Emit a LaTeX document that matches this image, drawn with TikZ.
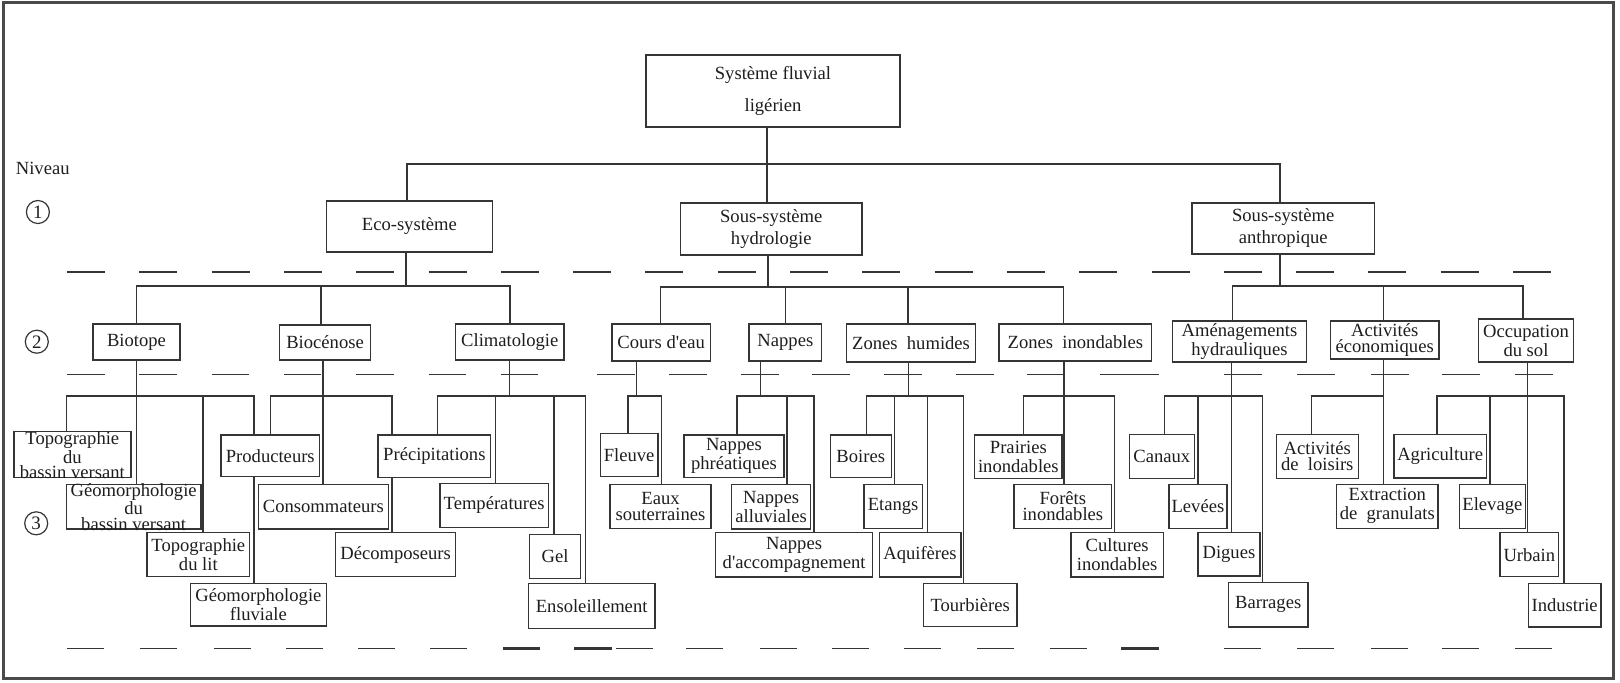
\documentclass[tikz,border=0pt]{standalone}
\usepackage{fontspec}
\setmainfont{Liberation Serif}[Ligatures=TeXOff]
\usetikzlibrary{backgrounds}
\definecolor{ink}{HTML}{353535}
\definecolor{txt}{HTML}{1E1E1E}
\definecolor{framec}{HTML}{4A4A4A}

% box: [label options]{name}{x1}{y1}{x2}{y2}{text}, coordinates in pixels
\newcommand\bx[7][]{%
  \node[box, minimum width={(#5-#3)*0.5pt}, minimum height={(#6-#4)*0.5pt},
        label={[lbl,#1]center:{#7}}] (#2) at ({(#3+#5)/2},{(#4+#6)/2}) {};}
% connector: {parent}{trunk x}{bus y}{child}{drop x}
\newcommand\conn[5]{\draw[wire] (#1.south -| #2,0) -- (#2,#3) -| (#4.north -| #5,0);}

\begin{document}
\begin{tikzpicture}[x=0.5pt,y=-0.5pt,
  box/.style={draw=ink, line width=0.7pt, fill=white, inner sep=0pt, outer sep=0pt},
  lbl/.style={text=txt, align=center, inner sep=0pt, font=\fontsize{9.3}{9.5}\selectfont},
  wire/.style={draw=ink, line width=0.7pt},
  dashln/.style={draw=ink, line width=0.75pt},
  thickdash/.style={draw=ink, line width=1.4pt},
  circ/.style={circle, draw=ink, line width=0.6pt, minimum size=11.5pt, inner sep=0pt,
               text=txt, font=\fontsize{9.5}{9.5}\selectfont}]
\useasboundingbox (0,0) rectangle (1620,682);

% outer frame
\draw[framec, line width=1.5pt] (3.5,2.5) rectangle (1613.5,678.5);

% level labels
\node[anchor=west, text=txt, inner sep=0pt, font=\fontsize{9.3}{9.5}\selectfont] (niveau) at (15.5,168) {Niveau};
\node[circ] (n1) at (37.9,212) {1};
\node[circ] (n2) at (36.8,341.7) {2};
\node[circ] (n3) at (36.2,523.3) {3};

% level 0
\bx[font=\fontsize{9.3}{16}\selectfont]{top}{646}{55}{900}{127}{Système fluvial\\ligérien}

% level 1
\bx{eco}{326.4}{201}{492.4}{252}{Eco-système}
\bx[font=\fontsize{9.3}{11}\selectfont]{hydro}{680.5}{203}{862}{255}{Sous-système\\hydrologie}
\bx[font=\fontsize{9.3}{11}\selectfont]{anthro}{1192}{203}{1374.4}{254}{Sous-système\\anthropique}

% level 2
\bx{biotope}{93}{324}{180}{360}{Biotope}
\bx{biocenose}{279.6}{325}{370.5}{360}{Biocénose}
\bx{clim}{455.6}{324}{564}{360}{Climatologie}
\bx{cours}{612}{324}{710.5}{361}{Cours d'eau}
\bx{nappes}{749}{324}{821.7}{361}{Nappes}
\bx{zh}{846.5}{324}{975.6}{362}{Zones~~humides}
\bx{zi}{999}{324}{1151.7}{361}{Zones~~inondables}
\bx{amen}{1172.3}{321}{1306.6}{362}{Aménagements\\hydrauliques}
\bx[font=\fontsize{9.3}{8.4}\selectfont]{activ}{1330.3}{321}{1439}{359}{Activités\\économiques}
\bx{occup}{1478.4}{319}{1573.5}{362}{Occupation\\du sol}

% level 3
\bx[font=\fontsize{9.3}{7.5}\selectfont]{topobv}{13.8}{431.7}{130.9}{477.7}{Topographie\\du\\bassin versant}
\bx[font=\fontsize{9.3}{6.5}\selectfont]{geombv}{66.5}{484.3}{200.8}{529}{Géomorphologie\\du\\bassin versant}
\bx{topolit}{147}{532.7}{249.7}{576.7}{Topographie\\du lit}
\bx{geomfl}{190.4}{583.3}{326.4}{626}{Géomorphologie\\fluviale}
\bx{prod}{221}{435}{319.6}{476.7}{Producteurs}
\bx{conso}{258.3}{484.3}{388.4}{529}{Consommateurs}
\bx{precip}{378}{435}{490.7}{477.7}{Précipitations}
\bx{decomp}{335.7}{532.7}{455.6}{576.7}{Décomposeurs}
\bx{temp}{440}{483.3}{548.3}{527.3}{Températures}
\bx{gel}{529.3}{534.3}{580.7}{578.3}{Gel}
\bx{ensol}{528.3}{583.3}{655}{628.7}{Ensoleillement}
\bx{fleuve}{600.3}{433.3}{658}{476.7}{Fleuve}
\bx[font=\fontsize{9.3}{8.4}\selectfont]{eaux}{610}{484.3}{711}{528.7}{Eaux\\souterraines}
\bx{nphr}{684}{435}{783.8}{477.7}{Nappes\\phréatiques}
\bx{nall}{731.5}{484.3}{810.7}{529}{Nappes\\alluviales}
\bx{nacc}{715.6}{532.7}{872.6}{577}{Nappes\\d'accompagnement}
\bx{boires}{830.3}{435}{891.2}{477.7}{Boires}
\bx{etangs}{864}{484.3}{922.2}{528.7}{Etangs}
\bx{aquif}{879.2}{532.7}{960.8}{577}{Aquifères}
\bx{tourb}{923.3}{583.3}{1017}{626.7}{Tourbières}
\bx{prair}{974.7}{435}{1062}{478.7}{Prairies\\inondables}
\bx[font=\fontsize{9.3}{8}\selectfont]{forets}{1014}{484.3}{1111.7}{528.3}{Forêts\\inondables}
\bx{cult}{1071}{532.7}{1163.3}{577}{Cultures\\inondables}
\bx{canaux}{1129.2}{434.3}{1194.3}{478.3}{Canaux}
\bx{levees}{1168.8}{484.3}{1227}{528.3}{Levées}
\bx{digues}{1197.8}{532.7}{1260}{576}{Digues}
\bx{barr}{1228.4}{582.7}{1308}{627}{Barrages}
\bx[font=\fontsize{9.3}{8}\selectfont]{loisirs}{1276.3}{434.3}{1358.2}{478.7}{Activités\\de~~loisirs}
\bx{extr}{1336.5}{484.3}{1438}{528.3}{Extraction\\de~~granulats}
\bx{agri}{1394}{434.3}{1486.3}{478}{Agriculture}
\bx{elev}{1459.5}{484.3}{1525.2}{528.3}{Elevage}
\bx{urbain}{1500}{532.7}{1558.7}{576.7}{Urbain}
\bx{indus}{1528.3}{583.3}{1601}{627}{Industrie}

\begin{pgfonlayer}{background}
% level separators
\foreach \k in {0,...,20} \draw[dashln] ({67+72.3*\k},272) -- ++(38,0);
\foreach \x in {67,139.3,211.6,283.9,356.2,428.5,500.8,597,669,741,812,884,956,1027,1224,1297,1371,1442,1515}
  \draw[dashln] (\x,374.5) -- ++(37.5,0);
\draw[dashln] (1100,374.5) -- (1159,374.5);
\foreach \x in {67,139.5,213.5,286,358,430,616,686,760,832,904,977,1050,1224,1297,1371,1442,1515}
  \draw[dashln] (\x,648.5) -- ++(37,0);
\draw[thickdash] (503,648.5) -- ++(37,0);
\draw[thickdash] (574,648.5) -- ++(38,0);
\draw[thickdash] (1121,648.5) -- ++(37.5,0);

% level 0 -> 1
\conn{top}{767}{164}{eco}{407}
\conn{top}{767}{164}{hydro}{767}
\conn{top}{767}{164}{anthro}{1280}

% level 1 -> 2
\conn{eco}{406}{286}{biotope}{136.7}
\conn{eco}{406}{286}{biocenose}{321}
\conn{eco}{406}{286}{clim}{510}
\conn{hydro}{768}{287}{cours}{660.5}
\conn{hydro}{768}{287}{nappes}{785.5}
\conn{hydro}{768}{287}{zh}{907.8}
\conn{hydro}{768}{287}{zi}{1063.3}
\conn{anthro}{1280}{286}{amen}{1232.5}
\conn{anthro}{1280}{286}{activ}{1383.7}
\conn{anthro}{1280}{286}{occup}{1523}

% level 2 -> 3
\conn{biotope}{136.7}{396}{topobv}{66.5}
\conn{biotope}{136.7}{396}{geombv}{136.7}
\conn{biotope}{136.7}{396}{topolit}{203}
\conn{biotope}{136.7}{396}{geomfl}{254}
\conn{biocenose}{323}{396}{prod}{270.3}
\conn{biocenose}{323}{396}{conso}{323}
\conn{biocenose}{323}{396}{decomp}{391.9}
\conn{clim}{509.3}{396}{precip}{437.3}
\conn{clim}{509.3}{396}{temp}{495.7}
\conn{clim}{509.3}{396}{gel}{554}
\conn{clim}{509.3}{396}{ensol}{585.7}
\conn{cours}{636.6}{396}{fleuve}{627.8}
\conn{cours}{636.6}{396}{eaux}{661.6}
\conn{nappes}{760.4}{396}{nphr}{737}
\conn{nappes}{760.4}{396}{nall}{786.9}
\conn{nappes}{760.4}{396}{nacc}{813.8}
\conn{zh}{908.5}{396}{boires}{866.4}
\conn{zh}{908.5}{396}{etangs}{894.7}
\conn{zh}{908.5}{396}{aquif}{927.4}
\conn{zh}{908.5}{396}{tourb}{963.6}
\conn{zi}{1064}{396}{prair}{1023.3}
\conn{zi}{1064}{396}{forets}{1064}
\conn{zi}{1064}{396}{cult}{1114.3}
\conn{amen}{1231.5}{396}{canaux}{1164.4}
\conn{amen}{1231.5}{396}{levees}{1198}
\conn{amen}{1231.5}{396}{digues}{1231.5}
\conn{amen}{1231.5}{396}{barr}{1262.5}
\conn{activ}{1383.7}{396}{loisirs}{1311.7}
\conn{activ}{1383.7}{396}{extr}{1383.7}
\conn{occup}{1527.6}{396}{agri}{1437}
\conn{occup}{1527.6}{396}{elev}{1489.8}
\conn{occup}{1527.6}{396}{urbain}{1527.6}
\conn{occup}{1527.6}{396}{indus}{1563.8}
\end{pgfonlayer}
\end{tikzpicture}
\end{document}
